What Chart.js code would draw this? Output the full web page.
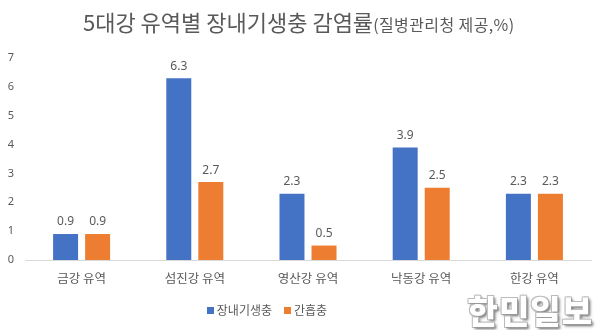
<!DOCTYPE html>
<html><head><meta charset="utf-8">
<script src="https://cdn.jsdelivr.net/npm/chart.js@4"></script>
<style>
html,body{margin:0;padding:0;background:#fff;}
#wrap{position:relative;width:597px;height:330px;overflow:hidden;font-family:"Noto Sans CJK KR","Noto Sans",sans-serif;}
#c{position:absolute;left:0;top:0;}
#title{position:absolute;left:83px;top:5px;color:#595959;white-space:nowrap;}
#title .big{font-size:22px;}
#title .small{font-size:16px;letter-spacing:0.4px;}
#legend{position:absolute;top:301px;left:0;width:534px;text-align:center;color:#595959;font-size:12px;white-space:nowrap;}
#legend span.sw{display:inline-block;width:7px;height:7px;margin-right:3px;vertical-align:middle;position:relative;top:-1px;}
#legend .item{margin:0 6px;}
#wm{position:absolute;right:4px;top:286px;font-size:33px;font-weight:900;color:#fff;letter-spacing:1px;
text-shadow:1px 1px 0 #999,-1px -1px 0 #bbb,1px -1px 0 #bbb,-1px 1px 0 #bbb,2px 2px 3px #666;}
</style></head>
<body>
<div id="wrap">
<canvas id="c" width="597" height="330"></canvas>
<div id="title"><span class="big">5대강 유역별 장내기생충 감염률</span><span class="small">(질병관리청 제공,%)</span></div>
<div id="legend"></div>
<div id="wm">한민일보</div>
</div>
<script>
const categories = ["금강 유역", "섬진강 유역", "영산강 유역", "낙동강 유역", "한강 유역"];
const seriesNames = ["장내기생충", "간흡충"];
const intestinal = [0.9, 6.3, 2.3, 3.9, 2.3];
const liverFluke = [0.9, 2.7, 0.5, 2.5, 2.3];
const yTicks = [0, 1, 2, 3, 4, 5, 6, 7];
const colors = ["#4472C4", "#ED7D31"];

const legendEl = document.getElementById('legend');
seriesNames.forEach((n, i) => {
  const it = document.createElement('span');
  it.className = 'item';
  it.innerHTML = '<span class="sw" style="background:' + colors[i] + '"></span>' + n;
  legendEl.appendChild(it);
});

const valueLabels = {
  id: 'valueLabels',
  afterDatasetsDraw(chart) {
    const ctx = chart.ctx;
    ctx.save();
    ctx.font = '12px "Noto Sans", "DejaVu Sans", sans-serif';
    ctx.fillStyle = '#595959';
    ctx.textAlign = 'center';
    ctx.textBaseline = 'bottom';
    chart.data.datasets.forEach((ds, di) => {
      const meta = chart.getDatasetMeta(di);
      meta.data.forEach((el, i) => {
        ctx.fillText(ds.data[i].toFixed(1), el.x, el.y - 6);
      });
    });
    ctx.restore();
  }
};

new Chart(document.getElementById('c'), {
  type: 'bar',
  data: {
    labels: categories,
    datasets: [
      { label: seriesNames[0], data: intestinal, backgroundColor: colors[0] },
      { label: seriesNames[1], data: liverFluke, backgroundColor: colors[1] }
    ]
  },
  options: {
    responsive: false,
    animation: false,
    devicePixelRatio: 1,
    layout: { padding: { left: 0, right: 6, top: 58, bottom: 33 } },
    datasets: { bar: { categoryPercentage: 0.566, barPercentage: 0.78 } },
    plugins: { legend: { display: false }, title: { display: false }, tooltip: { enabled: false } },
    scales: {
      x: {
        grid: { display: false, drawTicks: false },
        border: { display: true, color: '#d9d9d9', width: 1 },
        ticks: { color: '#595959', font: { size: 12.5, family: '"Noto Sans CJK KR", sans-serif' }, padding: 11 }
      },
      y: {
        min: 0, max: 7,
        afterFit(scale) { scale.width = 25; },
        afterBuildTicks(scale) { scale.ticks = yTicks.map(v => ({ value: v })); },
        grid: { display: false, drawTicks: false },
        border: { display: false },
        ticks: { color: '#595959', font: { size: 11, family: '"Noto Sans", sans-serif' }, padding: 11 }
      }
    }
  },
  plugins: [valueLabels]
});
</script>
</body></html>
